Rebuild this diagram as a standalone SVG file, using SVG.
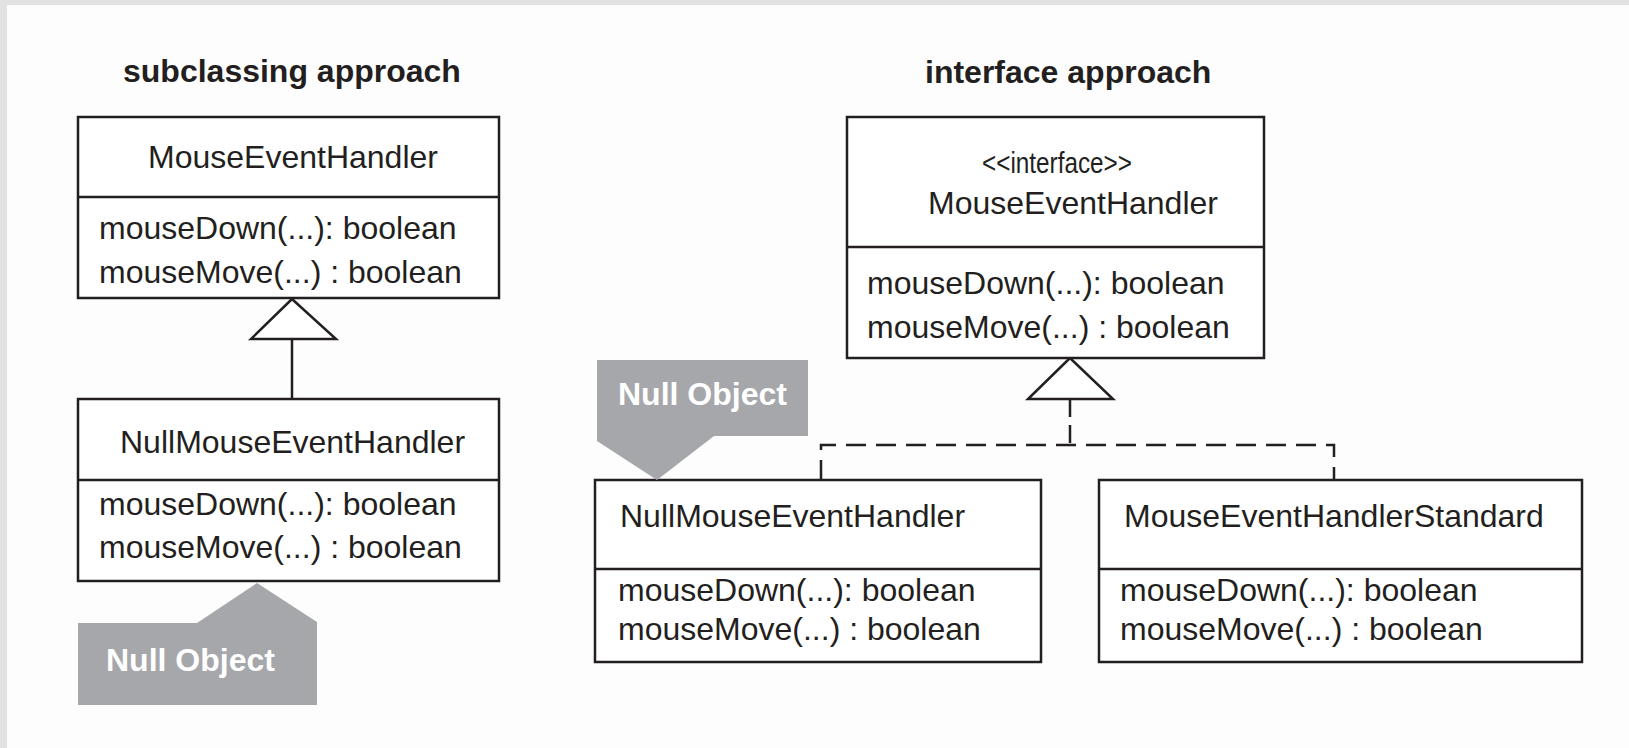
<svg xmlns="http://www.w3.org/2000/svg" width="1629" height="748" viewBox="0 0 1629 748">
<style>
.box{fill:#fff;stroke:#231f20;stroke-width:2.5}
.ln{stroke:#231f20;stroke-width:2.5;fill:none}
.dash{stroke:#231f20;stroke-width:2.5;fill:none;stroke-dasharray:20 10}
.tri{fill:#fff;stroke:#231f20;stroke-width:2.5;stroke-linejoin:miter}
.t{font-family:"Liberation Sans",Arial,sans-serif;font-size:32px;fill:#231f20}
.h{font-family:"Liberation Sans",Arial,sans-serif;font-size:32px;font-weight:bold;fill:#231f20}
.tag{fill:#a6a7ab}
.tagt{font-family:"Liberation Sans",Arial,sans-serif;font-size:32px;font-weight:bold;fill:#fff}
</style>
<rect x="0" y="0" width="1629" height="748" fill="#fdfdfd"/>
<rect x="0" y="0" width="1629" height="5" fill="#e2e2e2"/>
<rect x="0" y="0" width="7" height="748" fill="#e2e2e2"/>

<text class="h" x="123" y="82">subclassing approach</text>
<text class="h" x="925" y="83">interface approach</text>

<g id="connectors">
  <polygon class="tri" points="292,299 251,339 336,339"/>
  <line class="ln" x1="292" y1="339" x2="292" y2="399"/>
  <polygon class="tri" points="1070,358 1028,399 1113,399"/>
  <line class="dash" x1="1070" y1="399" x2="1070" y2="445" style="stroke-dasharray:18 8"/>
  <polyline class="dash" points="821,480 821,445 1334,445 1334,480"/>
</g>

<g id="sub-MouseEventHandler">
  <rect class="box" x="78" y="117" width="421" height="181"/>
  <line class="ln" x1="78" y1="197" x2="499" y2="197"/>
  <text class="t" x="148" y="168">MouseEventHandler</text>
  <text class="t" x="99" y="239">mouseDown(...): boolean</text>
  <text class="t" x="99" y="283">mouseMove(...) : boolean</text>
</g>

<g id="sub-NullMouseEventHandler">
  <rect class="box" x="78" y="399" width="421" height="182"/>
  <line class="ln" x1="78" y1="480" x2="499" y2="480"/>
  <text class="t" x="120" y="453">NullMouseEventHandler</text>
  <text class="t" x="99" y="515">mouseDown(...): boolean</text>
  <text class="t" x="99" y="558">mouseMove(...) : boolean</text>
</g>

<g id="tag-left">
  <polygon class="tag" points="78,705 78,623 197,623 257,583 317,622 317,705"/>
  <text class="tagt" x="106" y="671">Null Object</text>
</g>

<g id="if-MouseEventHandler">
  <rect class="box" x="847" y="117" width="417" height="241"/>
  <line class="ln" x1="847" y1="247" x2="1264" y2="247"/>
  <text class="t" x="1057" y="173" text-anchor="middle" style="font-size:30px" textLength="150" lengthAdjust="spacingAndGlyphs">&lt;&lt;interface&gt;&gt;</text>
  <text class="t" x="928" y="214">MouseEventHandler</text>
  <text class="t" x="867" y="294">mouseDown(...): boolean</text>
  <text class="t" x="867" y="338">mouseMove(...) : boolean</text>
</g>

<g id="if-NullMouseEventHandler">
  <rect class="box" x="595" y="480" width="446" height="182"/>
  <line class="ln" x1="595" y1="569" x2="1041" y2="569"/>
  <text class="t" x="620" y="527">NullMouseEventHandler</text>
  <text class="t" x="618" y="601">mouseDown(...): boolean</text>
  <text class="t" x="618" y="640">mouseMove(...) : boolean</text>
</g>

<g id="if-MouseEventHandlerStandard">
  <rect class="box" x="1099" y="480" width="483" height="182"/>
  <line class="ln" x1="1099" y1="569" x2="1582" y2="569"/>
  <text class="t" x="1124" y="527">MouseEventHandlerStandard</text>
  <text class="t" x="1120" y="601">mouseDown(...): boolean</text>
  <text class="t" x="1120" y="640">mouseMove(...) : boolean</text>
</g>

<g id="tag-right">
  <polygon class="tag" points="597,360 808,360 808,436 714,436 657,480 597,441"/>
  <text class="tagt" x="618" y="405">Null Object</text>
</g>
</svg>
